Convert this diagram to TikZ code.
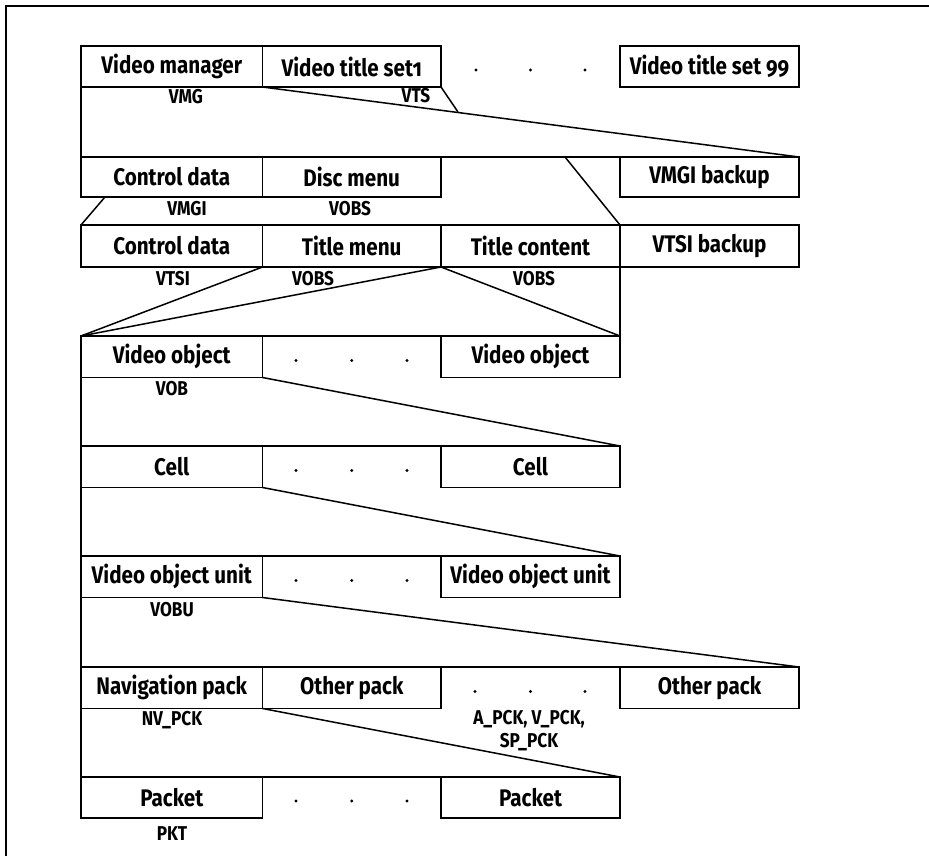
\documentclass[tikz,border=0pt]{standalone}
\usepackage{fontspec}
\newfontfamily\boxfont{Fira Sans}[FakeStretch=0.86,Numbers=OldStyle]
\begin{document}
\begin{tikzpicture}[x=1pt,y=-1pt,
  cellbox/.style={draw, line width=1.5pt, inner sep=0pt, outer sep=0pt,
    minimum height=41.5pt, font=\boxfont\bfseries\fontsize{24}{28}\selectfont},
  tag/.style={inner sep=0pt, align=center,
    font=\boxfont\bfseries\fontsize{20}{23}\selectfont},
  conn/.style={line width=1.5pt},
  dotmark/.style={circle, fill, inner sep=0pt, minimum size=3.4pt},
  frameline/.style={line width=1.4pt}]
\useasboundingbox (0,0) rectangle (929,856);
\clip (0,0) rectangle (929,856);
\draw[frameline] (6,870) -- (6,6) -- (940,6);

% column edges: 81, 262.5, 441, 620, 799
% row 1: disc volume
\node[cellbox, minimum width=181.5pt, minimum height=41pt] (vm)    at (171.75,66.5) {Video manager};
\node[cellbox, minimum width=178.5pt, minimum height=41pt] (vts1)  at (351.75,66.5) {Video title set1};
\node[cellbox, minimum width=179pt,   minimum height=41pt] (vts99) at (709.5,66.5)  {Video title set 99};
\foreach \x [count=\i] in {476,530.5,585} \node[dotmark] (dA\i) at (\x,70) {};
\node[tag] (lvmg) at (186,97) {VMG};
\node[tag] (lvts) at (416,96) {VTS};

% row 2: video manager
\node[cellbox, minimum width=181.5pt, minimum height=40pt] (cd1)   at (171.75,177) {Control data};
\node[cellbox, minimum width=178.5pt, minimum height=40pt] (dm)    at (351.75,177) {Disc menu};
\node[cellbox, minimum width=179pt,   minimum height=40pt] (vmgib) at (709.5,177)  {VMGI backup};
\draw[conn] (dm.north east) -- (vmgib.north west);
\node[tag] (lvmgi) at (187,209) {VMGI};
\node[tag] (lvobsA) at (350,209) {VOBS};

% row 3: video title set
\node[cellbox, minimum width=181.5pt, minimum height=42pt] (cd2)   at (171.75,246) {Control data};
\node[cellbox, minimum width=178.5pt, minimum height=42pt] (tm)    at (351.75,246) {Title menu};
\node[cellbox, minimum width=179pt,   minimum height=42pt] (tc)    at (530.5,246)  {Title content};
\node[cellbox, minimum width=179pt,   minimum height=42pt] (vtsib) at (709.5,246)  {VTSI backup};
\node[tag] (lvtsi) at (173,279) {VTSI};
\node[tag] (lvobsB) at (313,279) {VOBS};
\node[tag] (lvobsC) at (534,279) {VOBS};

% row 4: video objects
\node[cellbox, minimum width=181.5pt] (vo1) at (171.75,356.75) {Video object};
\node[cellbox, minimum width=179pt]   (vo2) at (530.5,356.75)  {Video object};
\draw[conn] (vo1.north east) -- (vo2.north west);
\foreach \x [count=\i] in {296,351.75,407} \node[dotmark] (dB\i) at (\x,360.5) {};
\node[tag] (lvob) at (172,389) {VOB};

% row 5: cells
\node[cellbox, minimum width=181.5pt] (ce1) at (171.75,466.75) {Cell};
\node[cellbox, minimum width=179pt]   (ce2) at (530.5,466.75)  {Cell};
\draw[conn] (ce1.north east) -- (ce2.north west);
\foreach \x [count=\i] in {296,351.75,407} \node[dotmark] (dC\i) at (\x,470.5) {};

% row 6: video object units
\node[cellbox, minimum width=181.5pt] (vu1) at (171.75,576.75) {Video object unit};
\node[cellbox, minimum width=179pt]   (vu2) at (530.5,576.75)  {Video object unit};
\draw[conn] (vu1.north east) -- (vu2.north west);
\foreach \x [count=\i] in {296,351.75,407} \node[dotmark] (dD\i) at (\x,580.5) {};
\node[tag] (lvobu) at (172,610) {VOBU};

% row 7: packs
\node[cellbox, minimum width=181.5pt] (nv)  at (171.75,687.75) {Navigation pack};
\node[cellbox, minimum width=178.5pt] (op1) at (351.75,687.75) {Other pack};
\node[cellbox, minimum width=179pt]   (op2) at (709.5,687.75)  {Other pack};
\draw[conn] (op1.north east) -- (op2.north west);
\foreach \x [count=\i] in {475,530.5,585} \node[dotmark] (dE\i) at (\x,691.5) {};
\node[tag] (lnv) at (172,720) {NV\_PCK};
\node[tag, anchor=north] (lpck) at (529,710) {A\_PCK, V\_PCK,\\SP\_PCK};

% row 8: packets
\node[cellbox, minimum width=181.5pt, minimum height=41pt] (pk1) at (171.75,797.5) {Packet};
\node[cellbox, minimum width=179pt,   minimum height=41pt] (pk2) at (530.5,797.5)  {Packet};
\draw[conn] (pk1.north east) -- (pk2.north west);
\foreach \x [count=\i] in {296,351.75,407} \node[dotmark] (dF\i) at (\x,801) {};
\node[tag] (lpkt) at (172,834) {PKT};

% expansion lines between levels
\coordinate (vtsend) at (458,112);
\coordinate (vtsup)  at (565,157);
\coordinate (vtslow) at (105,197);
\draw[conn] (vm.south west) -- (cd1.north west);
\draw[conn] (vm.south east) -- (vmgib.north east);
\draw[conn] (vts1.south east) -- (vtsend);
\draw[conn] (vtsup) -- (vtsib.north west);
\draw[conn] (vtslow) -- (cd2.north west);
\draw[conn] (tm.south west) -- (vo1.north west);
\draw[conn] (tc.south west) -- (vo1.north west);
\draw[conn] (tc.south west) -- (vo2.north east);
\draw[conn] (tc.south east) -- (vo2.north east);
\draw[conn] (vo1.south west) -- (ce1.north west);
\draw[conn] (vo1.south east) -- (ce2.north east);
\draw[conn] (ce1.south west) -- (vu1.north west);
\draw[conn] (ce1.south east) -- (vu2.north east);
\draw[conn] (vu1.south west) -- (nv.north west);
\draw[conn] (vu1.south east) -- (op2.north east);
\draw[conn] (nv.south west) -- (pk1.north west);
\draw[conn] (nv.south east) -- (pk2.north east);
\end{tikzpicture}
\end{document}
